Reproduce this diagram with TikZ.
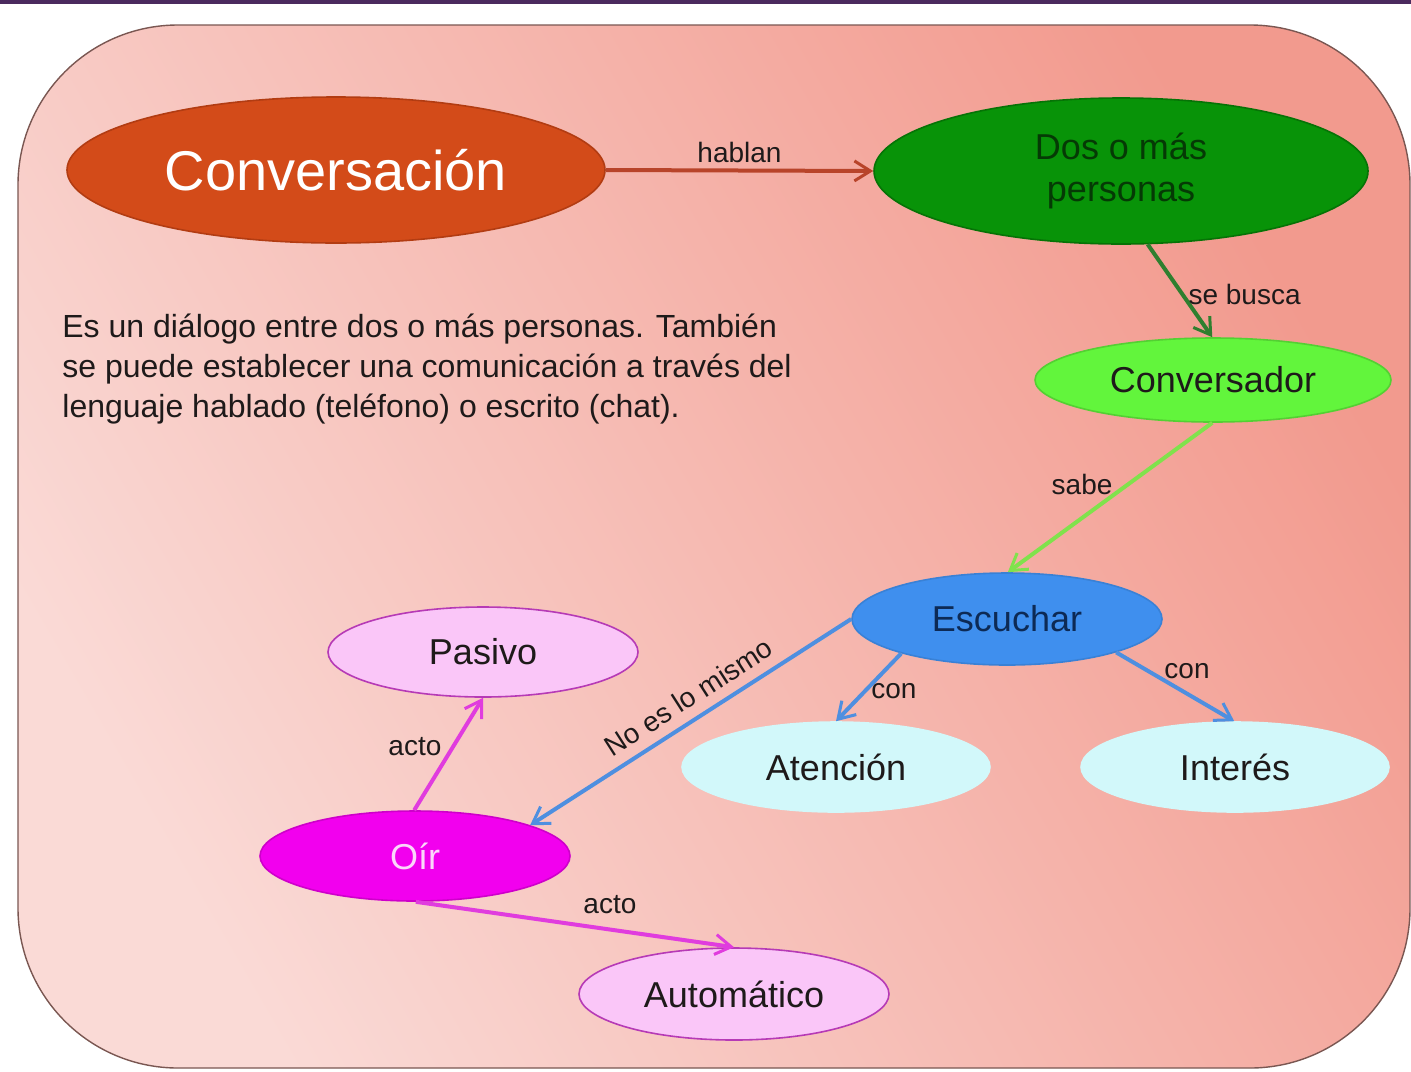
\documentclass[tikz,border=0pt]{standalone}
\usepackage{fontspec}
\setmainfont{Liberation Sans}
\usetikzlibrary{shapes.geometric,arrows.meta,calc}
\definecolor{topbar}{HTML}{4B2A5E}
\definecolor{bgleft}{HTML}{FADAD6}
\definecolor{bgright}{HTML}{F29A8E}
\definecolor{bgborder}{HTML}{7A5752}
\definecolor{convfill}{HTML}{D34B19}
\definecolor{convdraw}{HTML}{B23C12}
\definecolor{dosfill}{HTML}{089308}
\definecolor{dosdraw}{HTML}{067306}
\definecolor{dostext}{HTML}{053A05}
\definecolor{cvsfill}{HTML}{62F53C}
\definecolor{escfill}{HTML}{3F8FEE}
\definecolor{esctext}{HTML}{0D2A55}
\definecolor{lightpink}{HTML}{FAC6F8}
\definecolor{pinkdraw}{HTML}{B63AB6}
\definecolor{lightcyan}{HTML}{D2F8FA}
\definecolor{oirfill}{HTML}{F200EE}
\definecolor{oirtext}{HTML}{FBD6FA}
\definecolor{txt}{HTML}{1E1A1A}
\definecolor{eHablan}{HTML}{B8442A}
\definecolor{eBusca}{HTML}{2F7F2F}
\definecolor{eSabe}{HTML}{80E24C}
\definecolor{eBlue}{HTML}{4E8FE0}
\definecolor{eMag}{HTML}{E03CDE}
\begin{document}
\begin{tikzpicture}[x=0.5pt,y=-0.5pt,
  concept/.style={ellipse,inner sep=0pt,align=center,font=\fontsize{18}{21}\selectfont,line width=0.8pt},
  link/.style={line width=2pt,-{Straight Barb[length=8pt,width=10pt,line width=1.5pt]}},
  lbl/.style={font=\fontsize{14}{16}\selectfont,text=txt,inner sep=2pt}]
\useasboundingbox (0,0) rectangle (1411,1071);
\fill[white] (0,0) rectangle (1411,1071);
\fill[topbar] (0,0) rectangle (1411,4);
\shade[left color=bgleft,right color=bgright,shading angle=120,draw=bgborder,line width=0.7pt,rounded corners=80pt]
  (18,25) rectangle (1410,1068);

\node[concept,fill=convfill,draw=convdraw,minimum width=269pt,minimum height=73pt,text=white,font=\fontsize{28}{32}\selectfont] (conv) at (336,170) {Conversación};
\node[concept,fill=dosfill,draw=dosdraw,minimum width=247pt,minimum height=73pt,text=dostext] (dos) at (1121,171) {Dos o más\\personas};
\node[concept,fill=cvsfill,draw=cvsfill!85!black,minimum width=178pt,minimum height=42pt,text=txt] (cvs) at (1213,380) {Conversador};
\node[concept,fill=escfill,draw=escfill!90!black,minimum width=155pt,minimum height=46pt,text=esctext] (esc) at (1007,619) {Escuchar};
\node[concept,fill=lightpink,draw=pinkdraw,minimum width=155pt,minimum height=45pt,text=txt] (pas) at (483,652) {Pasivo};
\node[concept,fill=lightcyan,draw=lightcyan,minimum width=154pt,minimum height=45pt,text=txt] (ate) at (836,767) {Atención};
\node[concept,fill=lightcyan,draw=lightcyan,minimum width=154pt,minimum height=45pt,text=txt] (int) at (1235,767) {Interés};
\node[concept,fill=oirfill,draw=oirfill!85!black,minimum width=155pt,minimum height=45pt,text=oirtext] (oir) at (415,856) {Oír};
\node[concept,fill=lightpink,draw=pinkdraw,minimum width=155pt,minimum height=46pt,text=txt] (aut) at (734,994) {Automático};

\node[anchor=base west,align=left,inner sep=0pt,text=txt,font=\fontsize{16}{20}\selectfont] (desc) at (62,417)
  {Es un diálogo entre dos o más personas. También\\se puede establecer una comunicación a través del\\lenguaje hablado (teléfono) o escrito (chat).};

\draw[link,eHablan] (conv.east) -- node[lbl,above=1pt] {hablan} (dos.west);
\draw[link,eBusca] (dos.-70) -- node[lbl,pos=0.54,anchor=west] {se busca} (cvs.91);
\draw[link,eSabe] (cvs.-91) -- node[lbl,pos=0.41,anchor=east,xshift=-5pt] {sabe} (esc.89);
\draw[link,eBlue] (esc.west) -- node[lbl,sloped,pos=0.47,above=3pt] {No es lo mismo} (oir.15);
\draw[link,eBlue] (esc.-162) -- node[lbl,pos=0.55,anchor=west] {con} (ate.90);
\draw[link,eBlue] (esc.-17) -- node[lbl,pos=0.6,anchor=south,yshift=4.5pt] {con} (int.91);
\draw[link,eMag] (oir.91) -- node[lbl,pos=0.57,anchor=east,xshift=-3pt] {acto} (pas.-90);
\draw[link,eMag] (oir.-89) -- node[lbl,pos=0.61,above=5pt] {acto} (aut.90);
\end{tikzpicture}
\end{document}
